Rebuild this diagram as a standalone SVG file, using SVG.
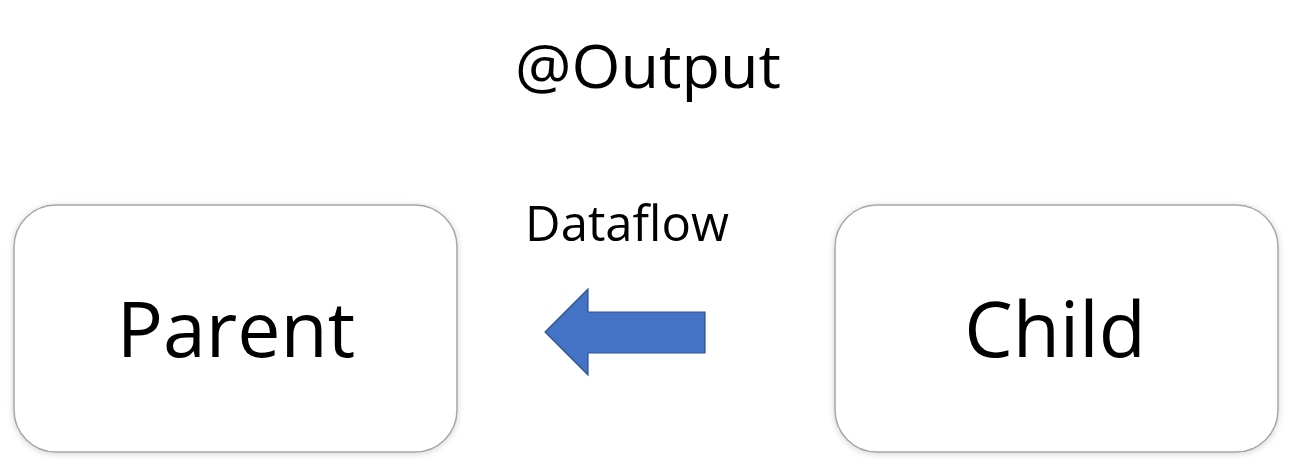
<svg xmlns="http://www.w3.org/2000/svg" width="1291" height="468" viewBox="0 0 1291 468">
  <defs>
    <filter id="shadow" x="-10%" y="-10%" width="120%" height="120%">
      <feDropShadow dx="0" dy="1" stdDeviation="3" flood-color="#000" flood-opacity="0.18"/>
    </filter>
  </defs>
  <style>
    .box { fill: #ffffff; stroke: #A6A6A6; stroke-width: 1.5; filter: url(#shadow); }
    .label { font-family: "Open Sans", "Noto Sans", "Liberation Sans", sans-serif; fill: #000; text-anchor: middle; }
    .arrow { fill: #4472C4; stroke: #2F528F; stroke-width: 1.2; }
  </style>
  <rect width="1291" height="468" fill="#ffffff"/>
  <text class="label" x="648" y="88" font-size="60" textLength="266" lengthAdjust="spacingAndGlyphs">@Output</text>
  <g id="parent">
    <rect class="box" x="14" y="205" width="443" height="247" rx="42" ry="42"/>
    <text class="label" x="236" y="357" font-size="77">Parent</text>
  </g>
  <g id="child">
    <rect class="box" x="835" y="205" width="443" height="247" rx="42" ry="42"/>
    <text class="label" x="1055" y="357" font-size="77">Child</text>
  </g>
  <g id="connectors">
    <text class="label" x="627" y="241" font-size="49">Dataflow</text>
    <polygon class="arrow" points="545,332 588,289 588,312 705,312 705,353 588,353 588,375"/>
  </g>
</svg>
